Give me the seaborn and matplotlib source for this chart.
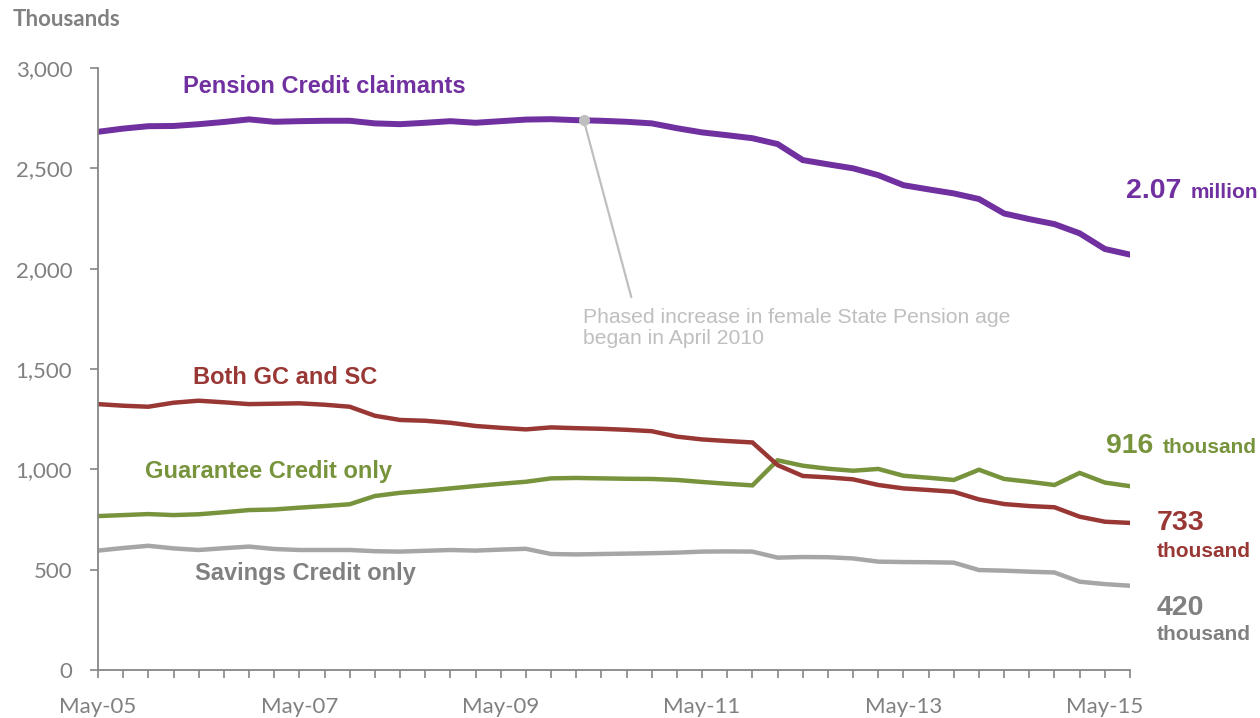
import numpy as np
import pandas as pd
import matplotlib
matplotlib.use("Agg")
import matplotlib.pyplot as plt
from matplotlib.ticker import FuncFormatter
import seaborn as sns

# quarterly caseload, thousands, May-05 .. Aug-15
quarters = pd.date_range("2005-05-01", periods=42, freq="3MS")

pension_credit = [2682, 2698, 2710, 2711, 2720, 2731, 2744, 2732, 2735, 2737,
                  2737, 2724, 2720, 2727, 2735, 2727, 2735, 2743, 2745, 2740,
                  2737, 2732, 2724, 2700, 2679, 2665, 2650, 2621, 2541, 2520,
                  2500, 2466, 2416, 2395, 2375, 2347, 2275, 2247, 2222, 2176,
                  2098, 2070]
both_gc_sc = [1325, 1317, 1312, 1332, 1342, 1334, 1325, 1327, 1329, 1322,
              1312, 1267, 1246, 1242, 1232, 1216, 1207, 1199, 1209, 1205,
              1202, 1197, 1190, 1163, 1149, 1141, 1134, 1021, 967, 960,
              950, 922, 905, 897, 888, 850, 827, 817, 811, 764,
              739, 733]
guarantee_only = [767, 772, 777, 772, 776, 786, 797, 800, 809, 817,
                  826, 867, 883, 893, 905, 917, 928, 938, 955, 957,
                  955, 953, 952, 947, 937, 928, 920, 1045, 1018, 1003,
                  993, 1002, 968, 958, 947, 998, 952, 938, 922, 982,
                  934, 916]
savings_only = [595, 608, 619, 606, 598, 607, 615, 603, 598, 598,
                598, 592, 590, 594, 598, 595, 600, 604, 578, 576,
                578, 580, 582, 585, 590, 591, 590, 560, 563, 562,
                556, 540, 538, 537, 535, 498, 495, 490, 486, 440,
                428, 420]

series_names = ["Pension Credit claimants", "Both GC and SC",
                "Guarantee Credit only", "Savings Credit only"]
colours = {"Pension Credit claimants": "#7030A0",
           "Both GC and SC": "#993735",
           "Guarantee Credit only": "#77933C",
           "Savings Credit only": "#A6A6A6"}
label_colours = {"Pension Credit claimants": "#7030A0",
                 "Both GC and SC": "#993735",
                 "Guarantee Credit only": "#77933C",
                 "Savings Credit only": "#808080"}
widths = {"Pension Credit claimants": 4.3, "Both GC and SC": 3.2,
          "Guarantee Credit only": 3.2, "Savings Credit only": 3.2}

df = pd.DataFrame({"q": np.arange(len(quarters)),
                   "Pension Credit claimants": pension_credit,
                   "Both GC and SC": both_gc_sc,
                   "Guarantee Credit only": guarantee_only,
                   "Savings Credit only": savings_only})
long = df.melt(id_vars="q", var_name="series", value_name="claimants")

sns.set_style("white")
plt.rcParams['font.family'] = ['Liberation Sans', 'DejaVu Sans']

fig = plt.figure(figsize=(12.6, 7.18), dpi=100)
ax = fig.add_axes([98 / 1260, 48 / 718, 1032 / 1260, 602 / 718])

# draw the lines, grey first so the others sit on top
for name in series_names[::-1]:
    sns.lineplot(data=long[long.series == name], x="q", y="claimants",
                 color=colours[name], linewidth=widths[name], ax=ax,
                 legend=False, solid_joinstyle="miter")

ax.set_xlim(0, len(quarters) - 1)
ax.set_ylim(0, 3000)
ax.set_xlabel("")
ax.set_ylabel("")

axis_grey = "#868686"
tick_font = dict(family="Lato", size=16, color="#808080")
for s in ["top", "right"]:
    ax.spines[s].set_visible(False)
for s in ["left", "bottom"]:
    ax.spines[s].set_color(axis_grey)
    ax.spines[s].set_linewidth(1.3)

ax.set_yticks(np.arange(0, 3001, 500))
ax.yaxis.set_major_formatter(FuncFormatter(lambda v, p: f"{v:,.0f}"))
major = np.arange(0, len(quarters), 8)
ax.set_xticks(major)
ax.set_xticklabels([quarters[i].strftime("%b-%y") for i in major])
ax.set_xticks(np.arange(len(quarters)), minor=True)
ax.tick_params(axis="y", left=True, direction="out", length=5.5, width=1.2,
               color=axis_grey, pad=13)
ax.tick_params(axis="x", which="both", bottom=True, direction="out", length=5.5,
               width=1.2, color=axis_grey, pad=14)
for lab in ax.get_xticklabels() + ax.get_yticklabels():
    lab.set_fontfamily(tick_font["family"])
    lab.set_fontsize(tick_font["size"])
    lab.set_color(tick_font["color"])

fig.text(13 / 1260, 1 - 19 / 718, "Thousands", family="Lato", weight="bold",
         size=16, color="#808080", va="center", ha="left")

# series names next to the lines
bold = dict(weight="bold", size=17, ha="left", va="baseline")
ax.text(3.38, 2875, "Pension Credit claimants", color=label_colours["Pension Credit claimants"], **bold)
ax.text(3.77, 1425, "Both GC and SC", color=label_colours["Both GC and SC"], **bold)
ax.text(1.87, 957, "Guarantee Credit only", color=label_colours["Guarantee Credit only"], **bold)
ax.text(3.85, 448, "Savings Credit only", color=label_colours["Savings Credit only"], **bold)

# latest values at the right
big = dict(weight="bold", size=20.5, ha="left", va="baseline", clip_on=False)
small = dict(weight="bold", size=15, ha="left", va="baseline", clip_on=False)
ax.text(40.84, 2352, "2.07", color="#7030A0", **big)
ax.text(43.4, 2352, "million", color="#7030A0", **small)
ax.text(40.05, 1081, "916", color="#77933C", **big)
ax.text(42.3, 1081, "thousand", color="#77933C", **small)
ax.text(42.07, 698, "733", color="#993735", **big)
ax.text(42.07, 563, "thousand", color="#993735", **small)
ax.text(42.07, 274, "420", color="#808080", **big)
ax.text(42.07, 149, "thousand", color="#808080", **small)

# annotation for the state pension age change
anchor_q = 19.3
anchor_v = np.interp(anchor_q, df.q, df["Pension Credit claimants"])
ax.plot([anchor_q], [anchor_v], marker="o", ms=7, color="#BFBFBF", zorder=5)
ax.annotate("Phased increase in female State Pension age\nbegan in April 2010",
            xy=(anchor_q, anchor_v), xytext=(19.27, 1625), textcoords="data",
            ha="left", va="baseline", size=15.2, color="#BFBFBF", linespacing=1.1,
            arrowprops=dict(arrowstyle="-", color="#BFBFBF", lw=1.6,
                            relpos=(0.12, 1.0), shrinkA=6, shrinkB=0))

fig.savefig("out.png", dpi=100)
